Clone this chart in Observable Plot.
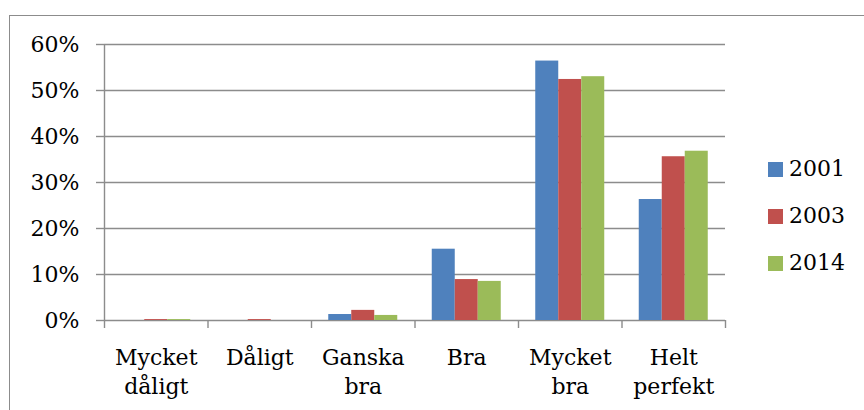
<!DOCTYPE html>
<html>
<head>
<meta charset="utf-8">
<script src="https://cdn.jsdelivr.net/npm/d3@7"></script>
<script src="https://cdn.jsdelivr.net/npm/@observablehq/plot@0.6"></script>
<style>
  html, body { margin: 0; padding: 0; background: #fff; }
  #wrap { position: relative; width: 864px; height: 410px; overflow: hidden; font-family: "DejaVu Serif", serif; }
  #border { position: absolute; left: 9px; top: 15px; right: -10px; bottom: -10px; border-left: 1.5px solid #8c8c8c; border-top: 1.5px solid #8c8c8c; }
  #chart { position: absolute; left: 0; top: 0; }
  #legend { position: absolute; left: 768px; top: 0; }
  .item { position: absolute; left: 0; display: flex; align-items: center; white-space: nowrap; }
  .sw { width: 15px; height: 15px; margin-right: 6px; }
  .lab { font-size: 22px; line-height: 22px; color: #000; }
</style>
</head>
<body>
<div id="wrap">
  <div id="border"></div>
  <div id="chart"></div>
  <div id="legend"></div>
</div>
<script>
const categories = ["Mycket\ndåligt", "Dåligt", "Ganska\nbra", "Bra", "Mycket\nbra", "Helt\nperfekt"];
const years = ["2001", "2003", "2014"];
const v2001 = [0, 0, 1.3, 15.5, 56.4, 26.3];
const v2003 = [0.2, 0.2, 2.2, 8.9, 52.4, 35.6];
const v2014 = [0.2, 0, 1.1, 8.5, 53.0, 36.8];
const yTicks = [0, 10, 20, 30, 40, 50, 60];
const colors = ["#4F81BD", "#C0504D", "#9BBB59"];

const series = [v2001, v2003, v2014];
const gapWidth = 1.5; // Excel-style gap width (150%)
const slots = years.length + gapWidth;
const rows = [];
years.forEach((yr, k) => {
  categories.forEach((c, i) => {
    rows.push({year: yr, cat: i, k, value: series[k][i]});
  });
});

const grid = "#8c8c8c";
const chart = Plot.plot({
  width: 864,
  height: 410,
  marginLeft: 104,
  marginRight: 139,
  marginTop: 44,
  marginBottom: 90,
  style: {fontFamily: "DejaVu Serif", fontSize: "22px", color: "#000", background: "transparent"},
  x: {type: "linear", domain: [0, categories.length], axis: null},
  y: {domain: [0, 60], axis: null},
  color: {domain: years, range: colors},
  marks: [
    Plot.ruleY(yTicks, {stroke: grid, strokeWidth: 1.4}),
    Plot.ruleX([0], {y1: 0, y2: 60, stroke: grid, strokeWidth: 1.4}),
    Plot.rect(rows, {
      x1: d => d.cat + (gapWidth / 2 + d.k) / slots,
      x2: d => d.cat + (gapWidth / 2 + d.k + 1) / slots,
      y1: 0,
      y2: "value",
      fill: "year"
    }),
    Plot.axisY({ticks: yTicks, tickFormat: d => d + "%", tickSize: 8, tickPadding: 17, stroke: grid, strokeWidth: 1.4, fill: "#000", fontSize: 22, label: null}),
    Plot.axisX({ticks: d3.range(categories.length + 1), tickFormat: () => "", tickSize: 8, stroke: grid, strokeWidth: 1.4, label: null}),
    Plot.axisX({ticks: categories.map((c, i) => i + 0.5), tickFormat: t => categories[Math.floor(t)], tickSize: 0, tickPadding: 23, lineHeight: 1.35, fill: "#000", fontSize: 22, label: null})
  ]
});
document.getElementById("chart").appendChild(chart);

const legend = document.getElementById("legend");
years.forEach((yr, k) => {
  const item = document.createElement("div");
  item.className = "item";
  item.style.top = (158 + k * 47) + "px";
  item.innerHTML = `<div class="sw" style="background:${colors[k]}"></div><div class="lab">${yr}</div>`;
  legend.appendChild(item);
});
</script>
</body>
</html>
